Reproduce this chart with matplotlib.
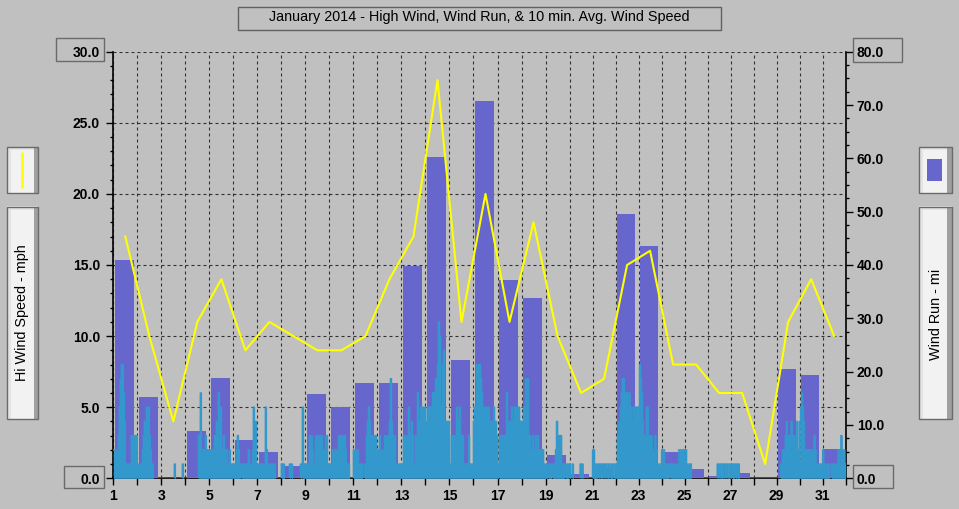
import matplotlib
matplotlib.use("Agg")
import matplotlib.pyplot as plt
import numpy as np
from matplotlib.patches import Rectangle
from matplotlib.lines import Line2D

plt.rcParams['font.family'] = ['Liberation Sans', 'DejaVu Sans']

# ---------------- data ----------------
title = "January 2014 - High Wind, Wind Run, & 10 min. Avg. Wind Speed"
left_label = "Hi Wind Speed - mph"
right_label = "Wind Run - mi"

days = list(range(1, 32))
# daily wind run (mi), right axis
wind_run = [40.9, 15.2, 0.0, 8.9, 18.8, 7.2, 4.9, 2.3, 15.8, 13.4, 17.9, 17.9,
            39.9, 60.3, 22.2, 70.7, 37.2, 33.8, 4.4, 0.8, 1.9, 49.6, 43.6, 4.9,
            1.7, 0.4, 1.0, 0.1, 20.5, 19.4, 5.5]
# daily high wind speed (mph), left axis
hi_wind = [17, 10, 4, 11, 14, 9, 11, 10, 9, 9, 10, 14, 17, 28, 11, 20, 11, 18,
           10, 6, 7, 15, 16, 8, 8, 6, 6, 1, 11, 14, 10]
# avg wind speed (mph), one hex digit per hour, one string per day
avg_speed_hourly = [
    "222223578864111111333333",
    "111112344545321100000000",
    "000000000000010000000100",
    "000000000000031621213212",
    "122123243645213212112111",
    "111232101111111211125241",
    "111111115211111111000000",
    "111000001010000000010511",
    "111132321133333332223311",
    "111222222333332321110000",
    "222221111001134543232332",
    "223222232323474333111111",
    "113333353343113364455545",
    "4454555656768ba548944434",
    "113333354353331111131111",
    "454878876555454544445343",
    "103333333644445445545543",
    "445477733223223332221211",
    "110111011124232311101110",
    "100100000001010000000000",
    "221110101101010110111011",
    "113445677656566545545455",
    "487643335533232223211111",
    "222111110111111111222221",
    "221111100000000000000000",
    "000000000010101101010110",
    "101101011000000000000000",
    "000000000000000000000000",
    "000011222343232432322421",
    "456542222212222321111111",
    "211111100111111121132221",
]
left_ticks = [0, 5, 10, 15, 20, 25, 30]
right_ticks = [0, 10, 20, 30, 40, 50, 60, 70, 80]

# ---------------- styling ----------------
BG = '#c0c0c0'
BAR = '#6666cc'
TEAL = '#3399cc'
YEL = '#ffff00'
GRID = '#303030'
EDGE = '#6a6a6a'

W, H = 959, 509
fig = plt.figure(figsize=(W / 100, H / 100), dpi=100, facecolor=BG)


def fx(x):
    return x / W


def fy(y):
    return 1 - y / H


def box(x0, y0, x1, y1, **kw):
    r = Rectangle((fx(x0), fy(y1)), (x1 - x0) / W, (y1 - y0) / H,
                  transform=fig.transFigure, **kw)
    fig.add_artist(r)
    return r


# the source renderer uses 24 px per day up to day 20 and 23 px after
def day_fwd(x):
    x = np.asarray(x, dtype=float)
    return np.where(x <= 20, (x - 1) * 24.0, 19 * 24.0 + (x - 20) * 23.0)


def day_inv(p):
    p = np.asarray(p, dtype=float)
    return np.where(p <= 456.0, p / 24.0 + 1, 20 + (p - 456.0) / 23.0)


L, R, T, B = 113.3, 845.7, 51.7, 478.3
ax = fig.add_axes([fx(L), fy(B), (R - L) / W, (B - T) / H])
ax.set_facecolor(BG)
ax.set_xscale('function', functions=(day_fwd, day_inv))
ax.set_xlim(1, 32)
ax.set_ylim(0, 30)
ax2 = ax.twinx()
ax2.set_ylim(0, 80)
ax3 = ax.twinx()
ax3.set_ylim(0, 30)
ax3.axis('off')

# grid / ticks
ax.set_xticks(list(range(1, 33)))
ax.set_xticklabels([str(d) if d % 2 == 1 else '' for d in range(1, 33)])
ax.xaxis.set_minor_locator(matplotlib.ticker.NullLocator())
ax.set_yticks(left_ticks)
ax.set_yticks(list(range(0, 31)), minor=True)
ax.yaxis.set_major_formatter('{x:.1f}')
ax.set_axisbelow(True)
ax.grid(True, which='major', color=GRID, linestyle=(0, (2.7, 2.7)), linewidth=0.8)

ax.tick_params(axis='x', which='major', direction='out', length=5, width=1,
               pad=3, labelsize=10, labelcolor='black')
ax.tick_params(axis='y', which='major', direction='out', length=5, width=1,
               pad=4.5, labelsize=10)
ax.tick_params(axis='y', which='minor', direction='out', length=2.5, width=1)
for lab in ax.get_xticklabels() + ax.get_yticklabels():
    lab.set_fontweight('bold')

ax2.set_yticks(right_ticks)
ax2.set_yticks(list(np.arange(0, 80.1, 2.5)), minor=True)
ax2.yaxis.set_major_formatter('{x:.1f}')
ax2.tick_params(axis='y', which='major', direction='out', length=5, width=1,
                pad=3, labelsize=10)
ax2.tick_params(axis='y', which='minor', direction='out', length=2.5, width=1)
for lab in ax2.get_yticklabels():
    lab.set_fontweight('bold')

for s in ('top', 'right'):
    ax.spines[s].set_visible(False)
for s in ('top', 'left', 'bottom'):
    ax2.spines[s].set_visible(False)
for s in ('left', 'bottom'):
    ax.spines[s].set_linewidth(1.2)
ax2.spines['right'].set_linewidth(1.2)

# bars (wind run)
ax2.bar([d + 0.07 for d in days], wind_run, width=0.79, align='edge',
        color=BAR, linewidth=0, zorder=2)

# avg wind speed (step)
xs, vs = [], []
for d, s in zip(days, avg_speed_hourly):
    n = len(s)
    for h, c in enumerate(s):
        xs.append(d + h / n)
        vs.append(int(c, 16))
xs.append(days[-1] + 1)
vs.append(vs[-1])
ax3.fill_between(xs, vs, step='post', color=TEAL, linewidth=0, zorder=3)
ax3.step(xs, vs, where='post', color=TEAL, linewidth=1.1, zorder=3)

# high wind line
ax3.plot([d + 0.5 for d in days], hi_wind, color=YEL, linewidth=1.5, zorder=4)

# ---------------- decorations ----------------
box(238.3, 6.7, 720.7, 30.3, fc='none', ec='#606060', lw=1)
fig.text(fx(479.5), fy(17.5), title, ha='center', va='center', fontsize=10.4)

# boxed end labels
box(56.3, 38.3, 104.3, 61.3, fc='none', ec=EDGE, lw=1)
box(64.3, 465.7, 104.3, 488.3, fc='none', ec=EDGE, lw=1)
box(853.3, 38.3, 901.7, 61.7, fc='none', ec=EDGE, lw=1)
box(853.3, 465.0, 893.3, 488.3, fc='none', ec=EDGE, lw=1)


def panel(x0, y0, x1, y1):
    box(x0, y0, x1, y1, fc='#f2f2f2', ec='none')
    box(x0, y0, x0 + 4, y1, fc='#e4e4e4', ec='none')
    box(x0, y0, x1, y0 + 3, fc='#e4e4e4', ec='none')
    box(x1 - 4.5, y0, x1, y1, fc='#a0a0a0', ec='none')
    box(x0, y0, x1, y1, fc='none', ec=EDGE, lw=1)


panel(6.7, 147.3, 38.3, 193.3)
panel(6.7, 206.5, 38.3, 419.3)
panel(919.3, 147.3, 951.7, 193.3)
panel(919.3, 206.5, 951.7, 419.3)

fig.add_artist(Line2D([fx(22.3), fx(22.3)], [fy(153), fy(186.7)],
                      transform=fig.transFigure, color=YEL, lw=1.9,
                      solid_capstyle='round'))
box(927, 159, 942, 181, fc=BAR, ec='none')

fig.text(fx(22.5), fy(313), left_label, rotation=90, ha='center', va='center',
         fontsize=10.4)
fig.text(fx(936), fy(314), right_label, rotation=90, ha='center', va='center',
         fontsize=10.4)

fig.savefig('out.png', dpi=100, facecolor=BG)
